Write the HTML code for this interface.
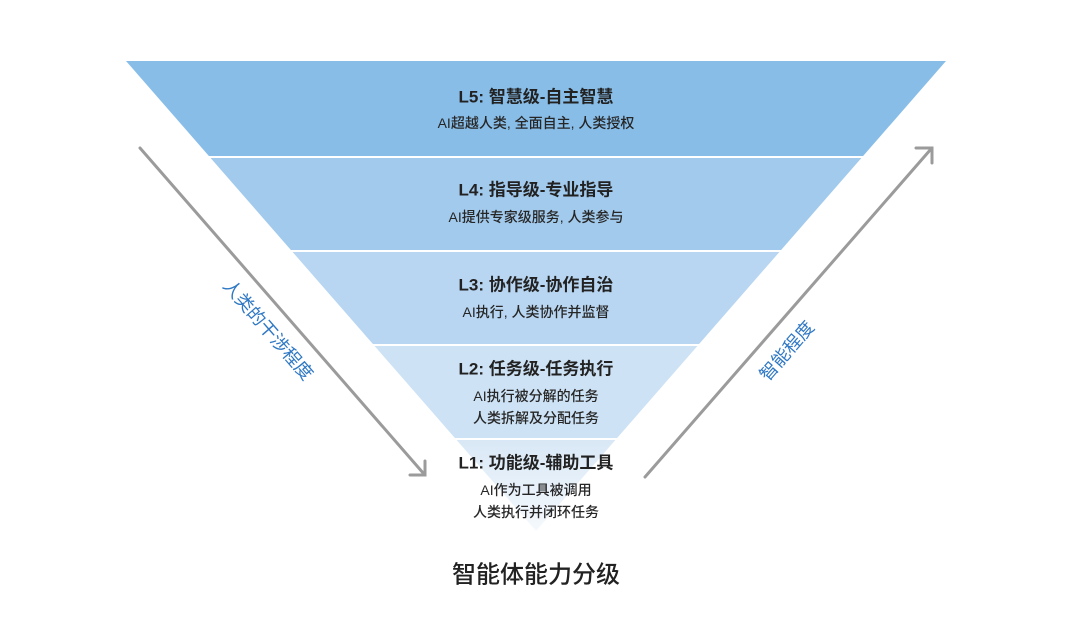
<!DOCTYPE html>
<html><head><meta charset="utf-8"><style>
html,body{margin:0;padding:0;background:#fff;}
svg{display:block;}
text{font-family:"Liberation Sans","Noto Sans CJK SC",sans-serif;}
.t{font-size:17px;font-weight:700;fill:#222;}
.s{font-size:14px;fill:#262626;font-weight:500;}
</style></head><body>
<svg width="1080" height="636" viewBox="0 0 1080 636" xmlns="http://www.w3.org/2000/svg">
<defs>
<linearGradient id="g1" x1="0" y1="0" x2="0" y2="1">
<stop offset="0" stop-color="#d9e8f6"/>
<stop offset="1" stop-color="#f5f9fd"/>
</linearGradient>
</defs>
<rect width="1080" height="636" fill="#fff"/>
<!-- bands -->
<polygon points="126,61 946,61 863.1,156 208.9,156" fill="#88bde8"/>
<polygon points="210.6,158 861.4,158 781.1,250 290.9,250" fill="#a2caec"/>
<polygon points="292.6,252 779.4,252 699.1,344 372.9,344" fill="#b8d6f1"/>
<polygon points="374.6,346 697.4,346 617.1,438 454.9,438" fill="#cde2f5"/>
<polygon points="456.6,440 615.4,440 536,531" fill="url(#g1)"/>

<!-- arrows -->
<g stroke="#9b9b9b" stroke-width="3" fill="none" stroke-linecap="round">
<line x1="140" y1="148" x2="424" y2="474"/>
<polyline points="410,475 425,475 425,461"/>
<line x1="645" y1="477" x2="931" y2="149"/>
<polyline points="916,148 932,148 932,163"/>
</g>

<text x="268" y="330" transform="rotate(49 268 330)" text-anchor="middle" dominant-baseline="central" font-size="18" fill="#2f78c4">人类的干涉程度</text>
<text x="787" y="351" transform="rotate(-49 787 351)" text-anchor="middle" dominant-baseline="central" font-size="18" fill="#2f78c4">智能程度</text>

<!-- labels -->
<g text-anchor="middle" dominant-baseline="central">
<text class="t" x="536" y="97">L5: 智慧级-自主智慧</text>
<text class="s" x="536" y="123">AI超越人类, 全面自主, 人类授权</text>
<text class="t" x="536" y="190">L4: 指导级-专业指导</text>
<text class="s" x="536" y="217">AI提供专家级服务, 人类参与</text>
<text class="t" x="536" y="285">L3: 协作级-协作自治</text>
<text class="s" x="536" y="312">AI执行, 人类协作并监督</text>
<text class="t" x="536" y="369">L2: 任务级-任务执行</text>
<text class="s" x="536" y="396">AI执行被分解的任务</text>
<text class="s" x="536" y="418">人类拆解及分配任务</text>
<text class="t" x="536" y="463">L1: 功能级-辅助工具</text>
<text class="s" x="536" y="490">AI作为工具被调用</text>
<text class="s" x="536" y="512">人类执行并闭环任务</text>
<text x="536" y="575" font-size="24" font-weight="500" fill="#222">智能体能力分级</text>
</g>
</svg>
</body></html>
